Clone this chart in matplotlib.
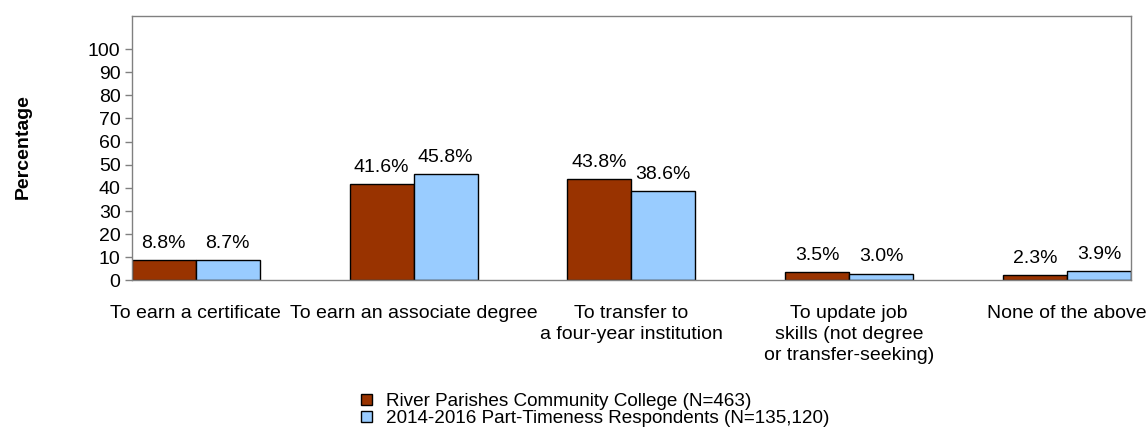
import matplotlib
matplotlib.use('Agg')
import matplotlib.pyplot as plt
import numpy as np

plt.rcParams['font.family'] = ['Liberation Sans', 'DejaVu Sans']

categories = ['To earn a certificate', 'To earn an associate degree',
              'To transfer to\na four-year institution',
              'To update job\nskills (not degree\nor transfer-seeking)',
              'None of the above']
college = [8.8, 41.6, 43.8, 3.5, 2.3]
national = [8.7, 45.8, 38.6, 3.0, 3.9]
series_names = ['River Parishes Community College (N=463)',
                '2014-2016 Part-Timeness Respondents (N=135,120)']
yticks = [0, 10, 20, 30, 40, 50, 60, 70, 80, 90, 100]

fs = 14
w = 0.294
x = np.arange(len(categories))

fig = plt.figure(figsize=(11.47, 4.32), dpi=100)
ax = fig.add_axes([0.1148, 0.3507, 0.8713, 0.613])

b1 = ax.bar(x - w / 2, college, w, color='#993300', edgecolor='black', linewidth=1, label=series_names[0])
b2 = ax.bar(x + w / 2, national, w, color='#99CCFF', edgecolor='black', linewidth=1, label=series_names[1])

for bars, vals in [(b1, college), (b2, national)]:
    for r, v in zip(bars, vals):
        ax.annotate('%.1f%%' % v, (r.get_x() + r.get_width() / 2, v),
                    xytext=(0, 6), textcoords='offset points',
                    ha='center', va='bottom', fontsize=fs)

ax.set_xlim(-w, len(categories) - 1 + w)
ax.set_ylim(0, 114.4)
ax.set_yticks(yticks)
ax.set_xticks(x)
ax.set_xticklabels(categories, fontsize=fs, linespacing=1.3)
ax.tick_params(axis='x', length=0, pad=18)
ax.tick_params(axis='y', labelsize=fs, length=5, width=1, color='#808080', pad=3)
for s in ax.spines.values():
    s.set_color('#808080')
    s.set_linewidth(1)

fig.text(23 / 1147, 1 - 147 / 432, 'Percentage', rotation=90, ha='center', va='center',
         fontsize=fs, fontweight='bold')

fig.legend(handles=[b1, b2], loc='center left', bbox_to_anchor=(361 / 1147, 1 - 410 / 432),
           frameon=False, fontsize=13.6, handlelength=0.6, handleheight=0.5,
           handletextpad=0.75, labelspacing=0.0, borderpad=0, borderaxespad=0)

plt.savefig('out.png')
